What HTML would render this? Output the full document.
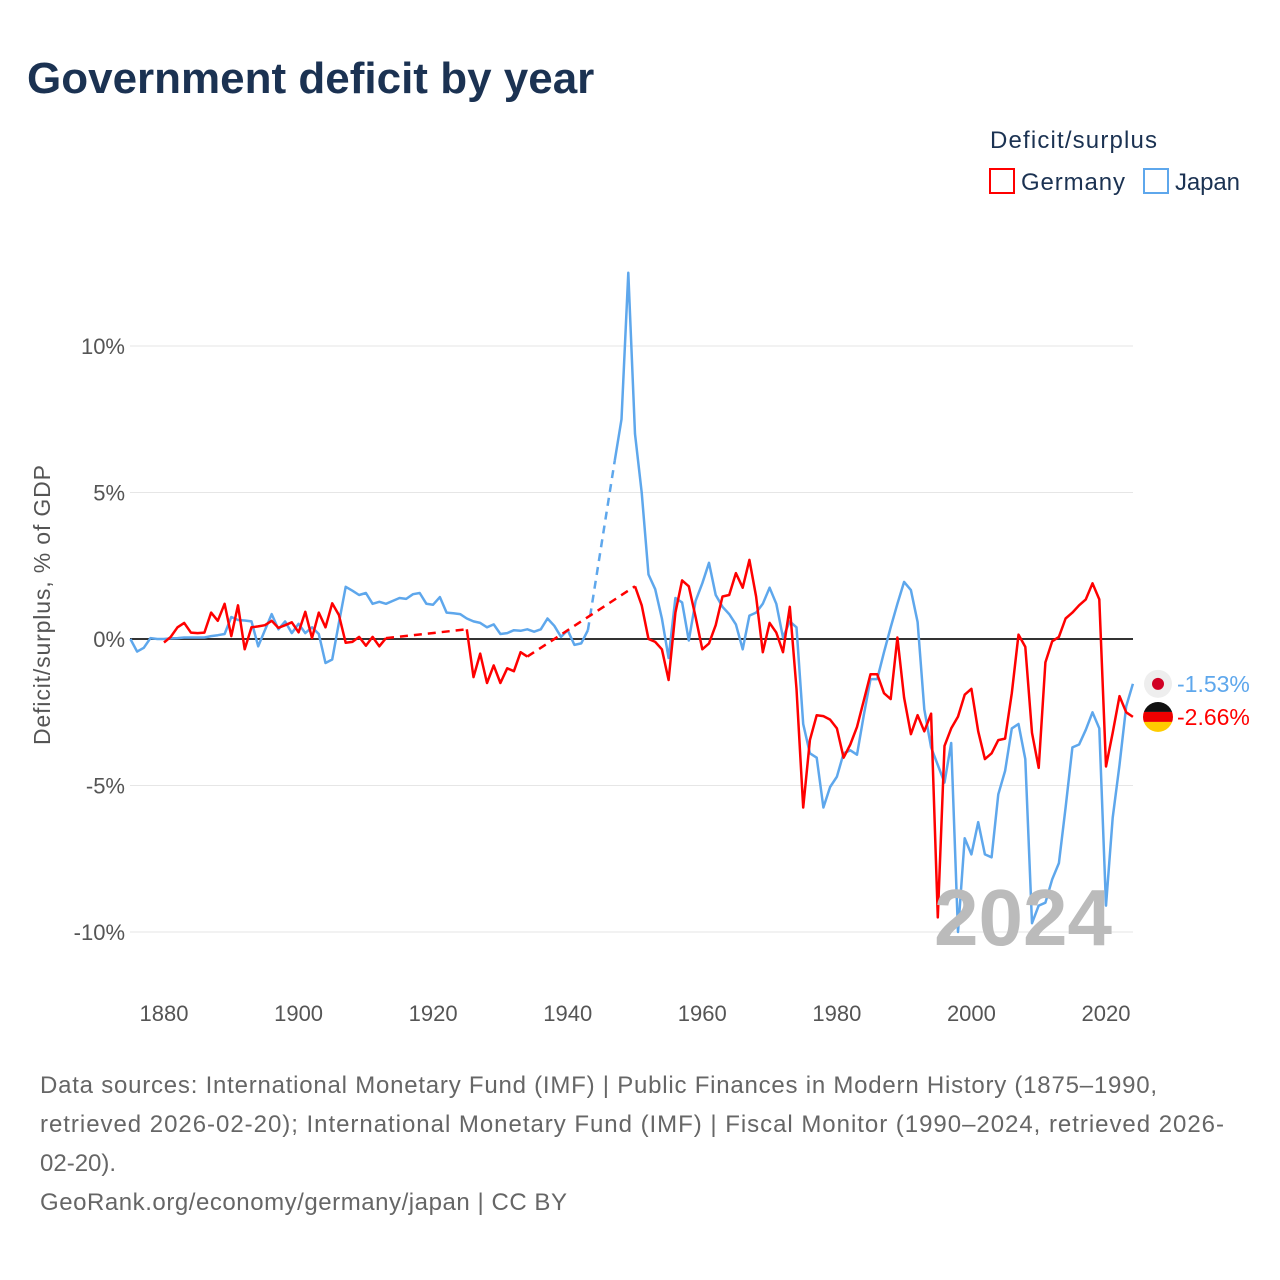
<!DOCTYPE html>
<html><head><meta charset="utf-8"><style>
body{margin:0;background:#fff;font-family:"Liberation Sans",sans-serif}
#wrap{position:relative;width:1280px;height:1280px;overflow:hidden}
</style></head><body>
<div id="wrap">
<svg id="chart" width="1280" height="1280">
<text x="27" y="93" font-size="44" font-weight="bold" fill="#1b3252">Government deficit by year</text>
<text x="990" y="148" font-size="24" fill="#1b3252" textLength="167">Deficit/surplus</text>
<g><rect x="990" y="169" width="24" height="24" fill="#fff" stroke="#f00" stroke-width="2"/><text x="1021" y="190" font-size="24" fill="#1b3252" textLength="104">Germany</text></g>
<g><rect x="1144" y="169" width="24" height="24" fill="#fff" stroke="#5ea7ec" stroke-width="2"/><text x="1175" y="190" font-size="24" fill="#1b3252" textLength="65">Japan</text></g>
<text transform="translate(50,605) rotate(-90)" text-anchor="middle" font-size="23" fill="#555" textLength="280">Deficit/surplus, % of GDP</text>
<g id="grid"></g><g id="series"></g>
<text x="1112" y="945" text-anchor="end" font-size="80" font-weight="bold" fill="#bbb">2024</text>
<g id="ends"></g>
<g font-size="24" fill="#666">
<text x="40" y="1093" textLength="1117">Data sources: International Monetary Fund (IMF) | Public Finances in Modern History (1875–1990,</text>
<text x="40" y="1132" textLength="1184">retrieved 2026-02-20); International Monetary Fund (IMF) | Fiscal Monitor (1990–2024, retrieved 2026-</text>
<text x="40" y="1171">02-20).</text>
<text x="40" y="1210" textLength="527">GeoRank.org/economy/germany/japan | CC BY</text>
</g>
</svg></div>
<script>
const yTicks=[10,5,0,-5,-10];
const yTickLabels=["10%","5%","0%","-5%","-10%"];
const xTicks=[1880,1900,1920,1940,1960,1980,2000,2020];
const germanyYears=[1880,1881,1882,1883,1884,1885,1886,1887,1888,1889,1890,1891,1892,1893,1894,1895,1896,1897,1898,1899,1900,1901,1902,1903,1904,1905,1906,1907,1908,1909,1910,1911,1912,1913,1925,1926,1927,1928,1929,1930,1931,1932,1933,1934,1950,1951,1952,1953,1954,1955,1956,1957,1958,1959,1960,1961,1962,1963,1964,1965,1966,1967,1968,1969,1970,1971,1972,1973,1974,1975,1976,1977,1978,1979,1980,1981,1982,1983,1984,1985,1986,1987,1988,1989,1990,1991,1992,1993,1994,1995,1996,1997,1998,1999,2000,2001,2002,2003,2004,2005,2006,2007,2008,2009,2010,2011,2012,2013,2014,2015,2016,2017,2018,2019,2020,2021,2022,2023,2024];
const germanyValues=[-0.12,0.07,0.4,0.55,0.22,0.2,0.22,0.9,0.62,1.2,0.1,1.15,-0.35,0.4,0.43,0.47,0.62,0.38,0.47,0.57,0.23,0.93,0.03,0.9,0.4,1.22,0.82,-0.13,-0.1,0.07,-0.23,0.07,-0.25,0.03,0.33,-1.3,-0.5,-1.5,-0.9,-1.5,-1.0,-1.1,-0.45,-0.6,1.8,1.15,0.0,-0.1,-0.35,-1.4,0.9,2.0,1.8,0.75,-0.35,-0.15,0.47,1.45,1.5,2.25,1.75,2.7,1.45,-0.45,0.55,0.22,-0.45,1.1,-1.7,-5.75,-3.45,-2.6,-2.63,-2.75,-3.05,-4.05,-3.6,-3.0,-2.1,-1.2,-1.2,-1.85,-2.05,0.05,-2.0,-3.25,-2.6,-3.15,-2.55,-9.5,-3.65,-3.05,-2.65,-1.9,-1.7,-3.15,-4.1,-3.9,-3.45,-3.4,-1.85,0.15,-0.27,-3.2,-4.4,-0.8,-0.08,0.07,0.7,0.9,1.15,1.35,1.9,1.35,-4.35,-3.2,-1.95,-2.5,-2.66];
const japanYears=[1875,1876,1877,1878,1879,1880,1881,1882,1883,1884,1885,1886,1887,1888,1889,1890,1891,1892,1893,1894,1895,1896,1897,1898,1899,1900,1901,1902,1903,1904,1905,1906,1907,1908,1909,1910,1911,1912,1913,1914,1915,1916,1917,1918,1919,1920,1921,1922,1923,1924,1925,1926,1927,1928,1929,1930,1931,1932,1933,1934,1935,1936,1937,1938,1939,1940,1941,1942,1943,1947,1948,1949,1950,1951,1952,1953,1954,1955,1956,1957,1958,1959,1960,1961,1962,1963,1964,1965,1966,1967,1968,1969,1970,1971,1972,1973,1974,1975,1976,1977,1978,1979,1980,1981,1982,1983,1984,1985,1986,1987,1988,1989,1990,1991,1992,1993,1994,1995,1996,1997,1998,1999,2000,2001,2002,2003,2004,2005,2006,2007,2008,2009,2010,2011,2012,2013,2014,2015,2016,2017,2018,2019,2020,2021,2022,2023,2024];
const japanValues=[0.0,-0.43,-0.3,0.03,0.0,0.0,0.02,0.03,0.05,0.05,0.05,0.05,0.1,0.13,0.17,0.75,0.65,0.63,0.6,-0.25,0.3,0.85,0.33,0.6,0.2,0.52,0.2,0.4,0.17,-0.82,-0.7,0.55,1.78,1.65,1.5,1.57,1.2,1.27,1.2,1.3,1.4,1.37,1.53,1.57,1.2,1.17,1.43,0.9,0.88,0.85,0.7,0.6,0.55,0.4,0.5,0.17,0.2,0.3,0.28,0.33,0.25,0.33,0.7,0.45,0.07,0.3,-0.2,-0.15,0.3,6.1,7.5,12.5,7.0,5.0,2.2,1.7,0.7,-0.65,1.4,1.25,-0.05,1.3,1.9,2.6,1.5,1.1,0.85,0.5,-0.35,0.8,0.9,1.2,1.75,1.2,0.05,0.6,0.4,-2.9,-3.9,-4.05,-5.75,-5.05,-4.7,-3.9,-3.8,-3.95,-2.6,-1.37,-1.37,-0.45,0.4,1.2,1.95,1.67,0.58,-2.4,-3.7,-4.3,-4.9,-3.55,-10.0,-6.8,-7.35,-6.25,-7.35,-7.45,-5.3,-4.5,-3.05,-2.9,-4.1,-9.7,-9.1,-9.0,-8.2,-7.65,-5.75,-3.7,-3.6,-3.1,-2.5,-3.05,-9.1,-6.1,-4.3,-2.3,-1.53];
const NS="http://www.w3.org/2000/svg";
const xs=y=>164+(y-1880)*942/140;
const ys=v=>639-v*29.3;
function mk(t,a,p){const e=document.createElementNS(NS,t);for(const k in a)e.setAttribute(k,a[k]);p.appendChild(e);return e;}
const grid=document.getElementById('grid');
yTicks.forEach((t,i)=>{
 const l=mk('line',{x1:130,x2:1133,y1:ys(t),y2:ys(t),stroke:t===0?'#333':'#e6e6e6','stroke-width':t===0?2:1},grid);
 
 
 const tx=mk('text',{x:125,y:ys(t)+8,'text-anchor':'end','font-size':22,fill:'#555'},grid);
 tx.textContent=yTickLabels[i];
 
 
});
xTicks.forEach(t=>{
 const tx=mk('text',{x:xs(t),y:1021,'text-anchor':'middle','font-size':22,fill:'#555'},grid);
 tx.textContent=t;
 
 
});
const ser=document.getElementById('series');
function draw(years,vals,color,name){
 const g=mk('g',{},ser);
 
 
 let seg=[];const segs=[];
 for(let i=0;i<years.length;i++){
  if(i>0&&years[i]-years[i-1]>1){segs.push(seg);seg=[];
   const d=mk('line',{x1:xs(years[i-1]),y1:ys(vals[i-1]),x2:xs(years[i]),y2:ys(vals[i]),stroke:color,'stroke-width':2.5,'stroke-dasharray':'8,6'},g);
   
   }
  seg.push(xs(years[i]).toFixed(1)+','+ys(vals[i]).toFixed(1));
 }
 segs.push(seg);
 segs.forEach(s=>{const p=mk('polyline',{points:s.join(' '),fill:'none',stroke:color,'stroke-width':2.5,'stroke-linejoin':'round'},g);
  
  });
}
draw(japanYears,japanValues,'#5ea7ec','japan');
draw(germanyYears,germanyValues,'#f00','germany');
const ends=document.getElementById('ends');
const jv=japanValues[japanValues.length-1],gv=germanyValues[germanyValues.length-1];
const jy=ys(jv),gy=ys(gv);
const jf=mk('g',{},ends);


mk('circle',{cx:1158,cy:jy,r:14,fill:'#eee'},jf);
mk('circle',{cx:1158,cy:jy,r:6,fill:'#d10024'},jf);
const jt=mk('text',{x:1177,y:jy+8,'font-size':23,fill:'#5ea7ec'},ends);
jt.textContent=jv.toFixed(2)+'%';


const gf=mk('g',{},ends);


mk('clipPath',{id:'gc'},gf).appendChild(document.createElementNS(NS,'circle'));
const cc=gf.querySelector('clipPath circle');cc.setAttribute('cx',1158);cc.setAttribute('cy',gy);cc.setAttribute('r',15);
mk('rect',{x:1143,y:gy-15,width:30,height:10,fill:'#111','clip-path':'url(#gc)'},gf);
mk('rect',{x:1143,y:gy-5,width:30,height:10,fill:'#e00','clip-path':'url(#gc)'},gf);
mk('rect',{x:1143,y:gy+5,width:30,height:10,fill:'#fc0','clip-path':'url(#gc)'},gf);
const gt=mk('text',{x:1177,y:gy+8,'font-size':23,fill:'#f00'},ends);
gt.textContent=gv.toFixed(2)+'%';


</script>
</body></html>
